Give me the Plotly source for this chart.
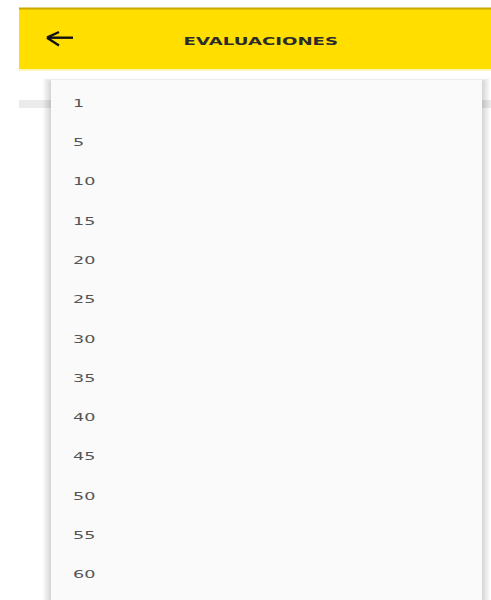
import plotly.graph_objects as go

# ---- data ----
title_text = "EVALUACIONES"
options = ["1", "5", "10", "15", "20", "25", "30", "35", "40", "45", "50", "55", "60"]
option_index = list(range(len(options)))

W, H = 491, 600
first_px, step_px = 104.0, 39.3   # pixel row of the first option and row spacing

fig = go.Figure()

# option labels on an index axis
fig.add_trace(go.Scatter(
    x=[73] * len(options), y=option_index, mode="text", text=options,
    textposition="middle right",
    textfont=dict(family="DejaVu Sans", size=11, color="#555555"),
    hoverinfo="skip", showlegend=False, yaxis="y",
))
# invisible anchor for pixel axis
fig.add_trace(go.Scatter(x=[0], y=[0], mode="markers", marker=dict(opacity=0),
                         hoverinfo="skip", showlegend=False, yaxis="y2"))

shapes = []
# yellow app bar
shapes.append(dict(type="rect", xref="x", yref="y2", x0=19, x1=W, y0=8, y1=69,
                   fillcolor="#FFDE00", line=dict(width=0), layer="below"))
shapes.append(dict(type="rect", xref="x", yref="y2", x0=19, x1=W, y0=7.5, y1=9.5,
                   fillcolor="#C9A600", line=dict(width=0), layer="below"))
shapes.append(dict(type="rect", xref="x", yref="y2", x0=19, x1=W, y0=69, y1=71,
                   fillcolor="#FFF6B8", line=dict(width=0), layer="below"))
# gray strip behind dropdown
shapes.append(dict(type="rect", xref="x", yref="y2", x0=19, x1=W, y0=100, y1=108,
                   fillcolor="#EBEBEB", line=dict(width=0), layer="below"))
# dropdown shadow (soft)
for i in range(8):
    d = 8 - i
    shapes.append(dict(type="rect", xref="x", yref="y2", x0=51 - d, x1=482 + d,
                       y0=80 - d * 0.4 + 1.5, y1=H + 10,
                       fillcolor="rgba(0,0,0,0.018)", line=dict(width=0), layer="below"))
# dropdown card
shapes.append(dict(type="rect", xref="x", yref="y2", x0=51, x1=482, y0=80, y1=H + 10,
                   fillcolor="#FAFAFA", line=dict(width=0), layer="below"))
# back arrow
arrow = dict(color="#111111", width=2.4)
shapes.append(dict(type="line", xref="x", yref="y2", x0=47, y0=37.7, x1=73, y1=37.7, line=arrow))
shapes.append(dict(type="line", xref="x", yref="y2", x0=47, y0=37.7, x1=59, y1=32, line=arrow))
shapes.append(dict(type="line", xref="x", yref="y2", x0=47, y0=37.7, x1=59, y1=45.5, line=arrow))

annotations = [dict(
    x=261, y=41, xref="x", yref="y2", text=title_text, showarrow=False,
    xanchor="center", yanchor="middle",
    font=dict(family="DejaVu Sans", size=11, color="#2B2B2B", weight="bold"),
)]

y_top = -first_px / step_px
y_bot = (H - first_px) / step_px

fig.update_layout(
    width=W, height=H, margin=dict(l=0, r=0, t=0, b=0),
    paper_bgcolor="#FFFFFF", plot_bgcolor="#FFFFFF",
    xaxis=dict(range=[0, W], visible=False, fixedrange=True),
    yaxis=dict(range=[y_bot, y_top], visible=False, fixedrange=True),
    yaxis2=dict(range=[H, 0], visible=False, overlaying="y", fixedrange=True),
    shapes=shapes, annotations=annotations, showlegend=False,
)

# the reference screenshot is horizontally stretched: widen the glyphs the same way
post = """
(function(){
  function widen(){
    var gd = document.getElementById('{plot_id}');
    if(!gd) return;
    gd.querySelectorAll('g.textpoint text').forEach(function(t){
      t.style.transformBox='fill-box'; t.style.transformOrigin='left center';
      t.style.transform='scaleX(1.6)';
    });
    gd.querySelectorAll('g.annotation text').forEach(function(t){
      t.style.transformBox='fill-box'; t.style.transformOrigin='center center';
      t.style.transform='scaleX(1.65)';
    });
  }
  document.body.style.margin='0'; document.body.style.overflow='hidden';
  widen(); setTimeout(widen, 30); setTimeout(widen, 300);
})();
"""
fig.write_html("out.html", config={"displayModeBar": False}, post_script=post)
